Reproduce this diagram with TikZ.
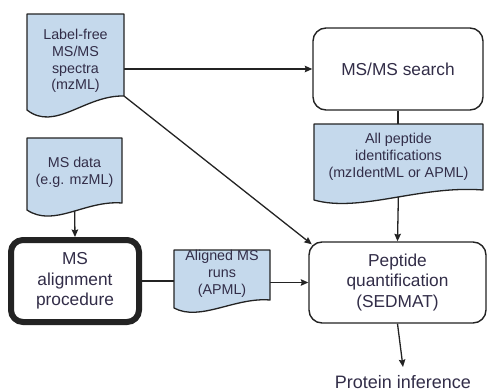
\documentclass[tikz,border=0pt]{standalone}
\usepackage{fontspec}
\setmainfont{Liberation Sans}
\usetikzlibrary{arrows.meta,calc}
\definecolor{docblue}{RGB}{197,217,236}
\definecolor{lin}{RGB}{35,35,35}
\definecolor{txt}{RGB}{50,45,72}
\pgfdeclarelayer{bg}
\pgfsetlayers{bg,main}
\tikzset{
  docshape/.style={fill=docblue, draw=lin, line width=1.3pt, line join=round},
  doctext/.style={font=\fontsize{14.3}{16.8}\selectfont, text=txt, align=center, inner sep=0pt, outer sep=0pt},
  procbox/.style={draw=lin, line width=1.4pt, rounded corners=13pt, fill=white, align=center, text=txt,
                  font=\fontsize{17.3}{20.5}\selectfont, inner sep=0pt},
  conn/.style={draw=lin, line width=1.3pt},
  arr/.style={conn, -{Stealth[length=7.5pt,width=6.5pt,inset=1pt]}}
}
\begin{document}
\begin{tikzpicture}[x=1pt,y=-1pt]
\useasboundingbox (0,0) rectangle (490,391);
% document shapes
\path[docshape] (27,14) -- (124,14) -- (124,96) .. controls (85,95) and (55,132) .. (27,110) -- cycle;
\path[docshape] (27,138) -- (122,138) -- (122,203) .. controls (85,200) and (54,228) .. (27,210) -- cycle;
\path[docshape] (174,250) -- (270,250) -- (270,300) .. controls (235,297) and (200,322) .. (174,308) -- cycle;
\path[docshape] (314,124) -- (483,124) -- (483,190) .. controls (420,185) and (360,213) .. (314,200) -- cycle;
% nodes
\node[doctext, minimum width=97pt, minimum height=70pt] (d1) at (75.5,61) {Label-free\\MS/MS\\spectra\\(mzML)};
\node[doctext, minimum width=95pt, minimum height=61pt] (msdata) at (74.5,172.5) {MS data\\(e.g. mzML)};
\node[doctext, minimum width=96pt, minimum height=52pt] (aligned) at (222,274) {Aligned MS\\runs\\(APML)};
\node[doctext, minimum width=169pt, minimum height=66pt] (pep) at (398.5,157) {All peptide\\identifications\\(mzIdentML or APML)};
\node[procbox, minimum width=170pt, minimum height=82pt] (search) at (398,69) {MS/MS search};
\node[procbox, minimum width=177pt, minimum height=81pt] (quant) at (397.5,282.5) {Peptide\\quantification\\(SEDMAT)};
\node[procbox, line width=6pt, rounded corners=12pt, minimum width=128pt, minimum height=82pt] (align) at (75,281) {MS\\alignment\\procedure};
\node[text=txt, font=\fontsize{18}{21}\selectfont, anchor=base, inner sep=0pt] (protein) at (403,388.5) {Protein inference};
\coordinate (protop) at (protein.north |- 0,367);
% connectors
\begin{pgfonlayer}{bg}
\draw[arr] (search.west -| d1.east) -- (search.west);
\draw[arr] (d1.south east) -- ($(quant.north west)+(3.5,3)$);
\draw[conn] (search.south) -- (search.south |- pep.north);
\draw[arr] (pep.south) -- (quant.north);
\draw[arr] (msdata.south) -- (align.north);
\draw[conn] (align.east) -- (align.east -| aligned.west);
\draw[arr] (aligned.east |- quant.west) -- (quant.west);
\draw[arr] (quant.south) -- (protop);
\end{pgfonlayer}
\end{tikzpicture}
\end{document}
